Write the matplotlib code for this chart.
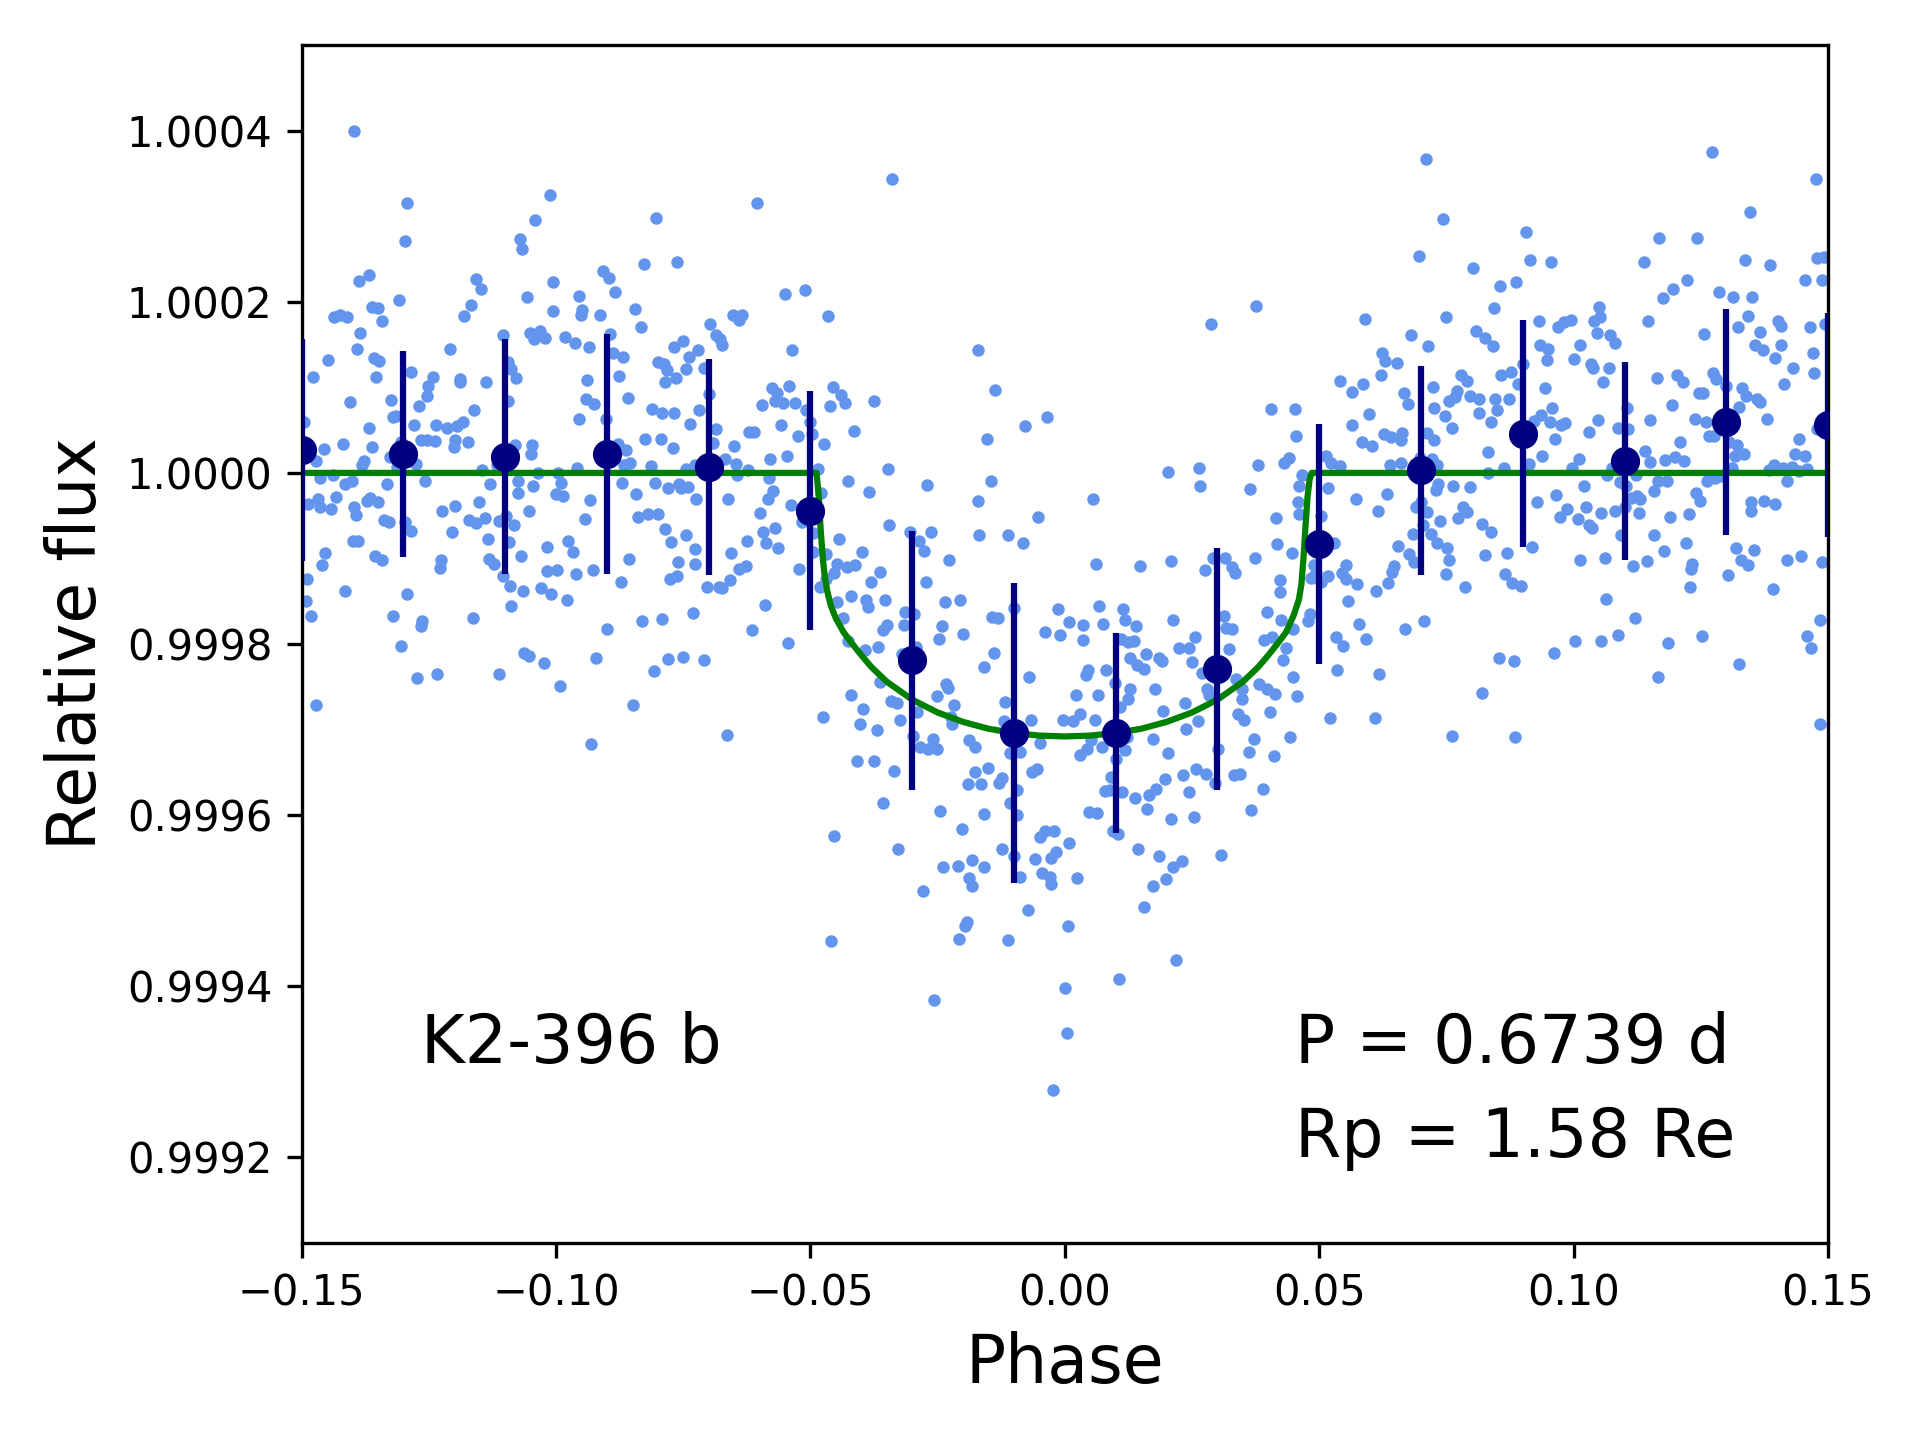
import numpy as np
import matplotlib
matplotlib.use("Agg")
import matplotlib.pyplot as plt

# ---------------- data (flux offsets in units of 1e-4) ----------------
pts_a = [(-0.1397,4.00),(-0.1292,3.16),(-0.1297,2.71),(-0.1011,3.25),(-0.1042,2.96),(-0.1070,2.73),(-0.1066,2.62),
(-0.1005,2.23),(-0.1005,1.89),(-0.1058,2.05),(-0.1388,2.24),(-0.1368,2.31),(-0.1309,2.02),(-0.1157,2.27),(-0.1147,2.15),
(-0.1167,1.96),(-0.1180,1.83),(-0.1437,1.82),(-0.1424,1.84),(-0.1410,1.82),(-0.1361,1.94),(-0.1350,1.93),(-0.1342,1.78),
(-0.1386,1.64),(-0.1392,1.45),(-0.1208,1.45),(-0.1105,1.61),(-0.1052,1.64),(-0.1044,1.57),(-0.1031,1.66),(-0.1022,1.58),
(-0.1357,1.34),(-0.1347,1.31),(-0.1354,1.12),(-0.1449,1.32),(-0.1478,1.12),(-0.1286,1.18),(-0.1241,1.12),(-0.1251,1.02),
(-0.1253,0.90),(-0.1188,1.10),(-0.1189,1.06),(-0.1137,1.06),(-0.1094,1.30),(-0.1088,1.21),(-0.1078,1.11),(-0.1095,0.84),
(-0.1405,0.83),(-0.1325,0.85),(-0.1270,0.78),(-0.1162,0.73),(-0.1315,0.66),(-0.1320,0.65),(-0.1367,0.52),(-0.1280,0.56),
(-0.1235,0.56),(-0.1215,0.52),(-0.1195,0.55),(-0.1182,0.60),(-0.1495,0.59),(-0.1419,0.34),(-0.1362,0.30),(-0.1456,0.28),
(-0.1471,0.14),(-0.1265,0.38),(-0.1254,0.38),(-0.1238,0.37),(-0.1304,0.36),(-0.1198,0.39),(-0.1201,0.30),(-0.1173,0.36),
(-0.1327,0.19),(-0.1377,0.14),(-0.1382,0.09),(-0.1275,0.10),(-0.1313,0.07),(-0.1117,0.09),(-0.1081,0.33),(-0.1048,0.33),
(-0.1050,0.22),(-0.1145,0.03),(-0.1035,0.00),(-0.0997,0.00),(-0.1463,-0.06),(-0.1439,-0.03),(-0.1415,-0.13),(-0.1401,-0.10),
(-0.1333,-0.13),(-0.1258,-0.09),(-0.1129,-0.13),(-0.1075,-0.09),(-0.1046,-0.15),(-0.1074,-0.24),(-0.1001,-0.25),(-0.0991,-0.12),
(-0.1488,-0.36),(-0.1467,-0.30),(-0.1463,-0.40),(-0.1443,-0.42),(-0.1433,-0.28),(-0.1397,-0.40),(-0.1393,-0.49),(-0.1372,-0.33),
(-0.1350,-0.34),(-0.1365,-0.29),(-0.1338,-0.55),(-0.1329,-0.57),(-0.1297,-0.57),(-0.1286,-0.68),(-0.1225,-0.44),(-0.1199,-0.39),
(-0.1205,-0.69),(-0.1151,-0.34),(-0.1171,-0.55),(-0.1158,-0.59),(-0.1140,-0.53),(-0.1112,-0.56),(-0.1099,-0.50),(-0.1082,-0.61),
(-0.1054,-0.45),(-0.1133,-0.77),(-0.1093,-0.81),(-0.1399,-0.79),(-0.1389,-0.79),(-0.1455,-0.94),(-0.1459,-1.08),(-0.1356,-0.97),
(-0.1343,-1.02),(-0.1227,-1.02),(-0.1229,-1.11),(-0.1132,-1.01),(-0.1122,-1.07),(-0.1068,-0.97),(-0.1018,-0.87),(-0.1018,-1.15),
(-0.0999,-1.14),(-0.1490,-1.24),(-0.1492,-1.50),(-0.1482,-1.67),(-0.1415,-1.38),(-0.1292,-1.42),(-0.1104,-1.20),(-0.1090,-1.32),
(-0.1088,-1.55),(-0.1064,-1.38),(-0.1029,-1.34),(-0.1010,-1.41),(-0.1321,-1.67),(-0.1263,-1.73),(-0.1265,-1.79),(-0.1164,-1.69),
(-0.1304,-2.02),(-0.1274,-2.40),(-0.1233,-2.35),(-0.1113,-2.35),(-0.1062,-2.11),(-0.1054,-2.14),(-0.1023,-2.22),(-0.1471,-2.71),
(-0.0992,-2.49)]

pts_b = [(-0.0803,2.98),(-0.0605,3.15),(-0.0907,2.36),(-0.0895,2.28),(-0.0827,2.44),(-0.0762,2.46),(-0.0884,2.12),(-0.0954,2.07),
(-0.0949,1.90),(-0.0950,1.84),(-0.0913,1.85),(-0.0844,1.92),(-0.0833,1.70),(-0.0550,2.09),(-0.0511,2.14),(-0.0982,1.59),
(-0.0963,1.52),(-0.0936,1.47),(-0.0893,1.62),(-0.0888,1.40),(-0.0868,1.35),(-0.0876,1.13),(-0.0939,1.08),(-0.0942,0.86),
(-0.0925,0.80),(-0.0954,0.63),(-0.0901,0.63),(-0.0858,0.87),(-0.0697,1.74),(-0.0686,1.61),(-0.0677,1.57),(-0.0674,1.49),
(-0.0652,1.85),(-0.0635,1.85),(-0.0640,1.79),(-0.0768,1.47),(-0.0750,1.54),(-0.0738,1.36),(-0.0721,1.44),(-0.0709,1.23),
(-0.0799,1.30),(-0.0787,1.27),(-0.0781,1.20),(-0.0764,1.11),(-0.0785,1.06),(-0.0744,1.21),(-0.0699,0.92),(-0.0537,1.44),
(-0.0576,0.99),(-0.0566,0.93),(-0.0542,1.02),(-0.0570,0.84),(-0.0554,0.82),(-0.0530,0.82),(-0.0508,0.73),(-0.0596,0.79),
(-0.0558,0.56),(-0.0525,0.43),(-0.0501,0.59),(-0.0496,0.46),(-0.0811,0.75),(-0.0791,0.70),(-0.0768,0.70),(-0.0737,0.57),
(-0.0719,0.74),(-0.0825,0.40),(-0.0794,0.40),(-0.0770,0.29),(-0.0878,0.34),(-0.0863,0.27),(-0.0855,0.12),(-0.0866,0.09),
(-0.0959,0.06),(-0.0686,0.51),(-0.0692,0.35),(-0.0650,0.32),(-0.0668,0.16),(-0.0646,0.10),(-0.0621,0.48),(-0.0611,0.48),
(-0.0579,0.16),(-0.0546,0.20),(-0.0813,0.08),(-0.0744,0.04),(-0.0726,0.09),(-0.0622,0.03),(-0.0987,-0.27),(-0.0871,-0.12),
(-0.0805,-0.12),(-0.0779,-0.18),(-0.0759,-0.13),(-0.0755,-0.18),(-0.0740,-0.16),(-0.0645,-0.03),(-0.0582,-0.06),(-0.0933,-0.32),
(-0.0842,-0.25),(-0.0725,-0.31),(-0.0662,-0.30),(-0.0573,-0.21),(-0.0584,-0.31),(-0.0538,-0.38),(-0.0599,-0.47),(-0.0944,-0.54),
(-0.0838,-0.52),(-0.0819,-0.48),(-0.0799,-0.48),(-0.0785,-0.65),(-0.0774,-0.81),(-0.0744,-0.73),(-0.0727,-0.89),(-0.0727,-1.07),
(-0.0760,-1.04),(-0.0763,-1.20),(-0.0776,-1.24),(-0.0593,-0.69),(-0.0587,-0.82),(-0.0569,-0.64),(-0.0563,-0.88),(-0.0517,-0.57),
(-0.0495,-0.70),(-0.0494,-0.92),(-0.0625,-0.79),(-0.0656,-0.94),(-0.0640,-1.12),(-0.0627,-1.09),(-0.0658,-1.25),(-0.0680,-1.33),
(-0.0673,-1.35),(-0.0703,-1.33),(-0.0523,-1.12),(-0.0976,-0.79),(-0.0966,-0.92),(-0.0960,-1.18),(-0.0927,-1.14),(-0.0856,-1.01),
(-0.0872,-1.27),(-0.0978,-1.48),(-0.0899,-1.82),(-0.0831,-1.73),(-0.0791,-1.71),(-0.0731,-1.64),(-0.0589,-1.54),(-0.0615,-1.84),
(-0.0544,-1.99),(-0.0921,-2.16),(-0.0807,-2.31),(-0.0780,-2.17),(-0.0750,-2.15),(-0.0709,-2.19),(-0.0848,-2.71),
(-0.0931,-3.17),(-0.0664,-3.06)]

pts_c = [(-0.0340,3.44),(-0.0465,1.83),(-0.0171,1.44),(-0.0138,0.97),(-0.0455,1.00),(-0.0440,0.91),(-0.0432,0.82),(-0.0461,0.78),
(-0.0375,0.84),(-0.0414,0.49),(-0.0474,0.34),(-0.0153,0.40),(-0.0079,0.55),(-0.0036,0.65),(-0.0347,0.04),(-0.0271,-0.14),
(-0.0426,-0.09),(-0.0385,-0.22),(-0.0145,-0.10),(-0.0171,-0.33),(-0.0485,0.05),(-0.0479,-0.24),(-0.0345,-0.61),(-0.0304,-0.69),
(-0.0287,-0.80),(-0.0277,-0.91),(-0.0263,-0.69),(-0.0169,-0.72),(-0.0112,-0.73),(-0.0083,-0.82),(-0.0053,-0.52),(-0.0470,-0.95),
(-0.0443,-0.77),(-0.0398,-0.93),(-0.0447,-1.06),(-0.0428,-1.10),(-0.0412,-1.08),(-0.0453,-1.17),(-0.0470,-1.24),(-0.0481,-1.33),
(-0.0381,-1.27),(-0.0363,-1.16),(-0.0228,-1.02),(-0.0273,-1.28),(-0.0447,-1.51),(-0.0421,-1.44),(-0.0391,-1.49),(-0.0387,-1.57),
(-0.0354,-1.49),(-0.0206,-1.48),(-0.0236,-1.51),(-0.0436,-1.70),(-0.0314,-1.62),(-0.0296,-1.65),(-0.0317,-1.78),(-0.0350,-1.78),
(-0.0358,-1.84),(-0.0241,-1.79),(-0.0247,-1.94),(-0.0200,-1.88),(-0.0143,-1.68),(-0.0132,-1.70),(-0.0100,-1.58),(-0.0014,-1.59),
(-0.0038,-1.86),(-0.0009,-1.90),(0.0008,-1.74),(-0.0426,-1.97),(-0.0392,-2.07),(-0.0368,-2.03),(-0.0321,-2.12),(-0.0292,-2.03),
(-0.0140,-2.10),(-0.0159,-2.27),(-0.0071,-2.39),(-0.0364,-2.44),(-0.0421,-2.60),(-0.0396,-2.76),(-0.0402,-2.94),(-0.0369,-3.01),
(-0.0476,-2.85),(-0.0342,-2.66),(-0.0329,-2.69),(-0.0324,-2.89),(-0.0291,-2.80),(-0.0252,-2.61),(-0.0234,-2.47),(-0.0230,-2.51),
(-0.0217,-2.71),(-0.0221,-2.93),(-0.0223,-2.85),(-0.0298,-3.08),(-0.0285,-3.20),(-0.0260,-3.11),(-0.0268,-3.23),(-0.0252,-3.23),
(-0.0118,-2.68),(-0.0120,-2.90),(-0.0067,-2.89),(-0.0048,-3.16),(-0.0188,-3.12),(-0.0177,-3.20),(-0.0004,-2.89),(-0.0409,-3.37),
(-0.0375,-3.37),(-0.0336,-3.48),(-0.0177,-3.50),(-0.0191,-3.64),(-0.0165,-3.64),(-0.0151,-3.45),(-0.0130,-3.62),(-0.0123,-3.57),
(-0.0107,-3.27),(-0.0089,-3.26),(-0.0064,-3.50),(-0.0055,-3.46),(-0.0094,-3.71),(-0.0094,-4.00),(-0.0107,-3.86),(-0.0357,-3.86),
(-0.0159,-3.99),(-0.0202,-4.16),(-0.0245,-3.95),(-0.0453,-4.24),(-0.0328,-4.39),(-0.0239,-4.60),(-0.0210,-4.59),(-0.0183,-4.52),
(-0.0158,-4.61),(-0.0189,-4.73),(-0.0183,-4.83),(-0.0124,-4.39),(-0.0100,-4.48),(-0.0089,-4.72),(-0.0059,-4.51),(-0.0038,-4.18),
(-0.0022,-4.18),(-0.0049,-4.26),(-0.0028,-4.50),(-0.0017,-4.43),(-0.0045,-4.67),(-0.0030,-4.72),(-0.0027,-4.81),(0.0009,-4.32),
(-0.0279,-4.89),(-0.0073,-5.11),(-0.0196,-5.29),(-0.0192,-5.25),(-0.0208,-5.45),(-0.0112,-5.46),(-0.0459,-5.47),(0.0006,-5.30),
(-0.0257,-6.16),(0.0001,-6.02),(0.0004,-6.55),(-0.0024,-7.21)]

pts_d = [(0.0288,1.74),(0.0376,1.95),(0.0406,0.75),(0.0453,0.75),(0.0455,0.43),(0.0202,0.01),(0.0264,0.06),(0.0266,-0.15),
(0.0379,0.09),(0.0364,-0.19),(0.0431,0.12),(0.0440,0.18),(0.0466,-0.02),(0.0461,-0.15),(0.0459,-0.34),(0.0461,-0.48),
(0.0415,-0.53),(0.0417,-0.83),(0.0447,-0.94),(0.0423,-1.25),(0.0422,-1.39),(0.0484,-1.23),(0.0490,-1.08),(0.0493,-1.17),
(0.0503,-1.28),(0.0503,-0.50),(0.0482,-1.65),(0.0477,-1.73),(0.0055,-0.31),(0.0061,-1.07),(0.0148,-1.09),(0.0208,-1.03),
(0.0291,-0.99),(0.0315,-1.00),(0.0328,-1.10),(0.0334,-1.17),(0.0276,-1.13),(0.0373,-0.99),(0.0068,-1.56),(0.0075,-1.77),
(0.0115,-1.59),(0.0118,-1.72),(0.0140,-1.79),(0.0213,-1.72),(0.0313,-1.67),(0.0317,-1.81),(0.0328,-1.83),(0.0323,-2.06),
(0.0398,-1.62),(0.0425,-1.72),(0.0449,-1.83),(0.0035,-1.78),(0.0035,-1.95),(0.0111,-1.94),(0.0124,-1.98),(0.0136,-1.97),
(0.0160,-2.12),(0.0129,-2.16),(0.0142,-2.25),(0.0156,-2.29),(0.0186,-2.16),(0.0191,-2.20),(0.0225,-2.05),(0.0244,-2.05),
(0.0255,-1.92),(0.0249,-2.21),(0.0270,-2.34),(0.0392,-1.95),(0.0408,-1.92),(0.0435,-2.05),(0.0429,-2.19),(0.0080,-2.30),
(0.0098,-2.46),(0.0046,-2.30),(0.0041,-2.36),(0.0178,-2.52),(0.0021,-2.59),(0.0066,-2.60),(0.0129,-2.52),(0.0125,-2.64),
(0.0108,-2.73),(0.0279,-2.52),(0.0284,-2.60),(0.0336,-2.41),(0.0349,-2.52),(0.0349,-2.64),(0.0381,-2.47),(0.0398,-2.52),
(0.0413,-2.58),(0.0457,-2.61),(0.0449,-2.38),(0.0193,-2.78),(0.0236,-2.69),(0.0261,-2.90),(0.0238,-2.99),(0.0341,-2.82),
(0.0353,-2.89),(0.0404,-2.79),(0.0016,-2.90),(0.0029,-2.82),(0.0052,-3.12),(0.0059,-2.89),(0.0029,-3.30),(0.0044,-3.23),
(0.0073,-3.20),(0.0101,-3.34),(0.0119,-3.24),(0.0123,-3.09),(0.0174,-3.11),(0.0202,-3.27),(0.0302,-3.23),(0.0361,-3.26),
(0.0371,-3.11),(0.0411,-3.31),(0.0443,-3.09),(0.0090,-3.55),(0.0078,-3.72),(0.0088,-3.71),(0.0113,-3.73),(0.0137,-3.80),
(0.0162,-3.93),(0.0166,-3.77),(0.0179,-3.69),(0.0196,-3.58),(0.0232,-3.53),(0.0244,-3.73),(0.0258,-3.46),(0.0278,-3.52),
(0.0296,-3.62),(0.0253,-4.02),(0.0208,-4.05),(0.0333,-3.53),(0.0344,-3.52),(0.0389,-3.69),(0.0366,-3.94),(0.0047,-3.96),
(0.0063,-3.97),(0.0095,-4.18),(0.0104,-4.22),(0.0143,-4.40),(0.0186,-4.48),(0.0213,-4.61),(0.0231,-4.54),(0.0198,-4.75),
(0.0173,-4.83),(0.0307,-4.46),(0.0023,-4.73),(0.0155,-5.07),(0.0219,-5.69),(0.0106,-5.91)]

pts_e = [(0.0710,3.67),(0.0743,2.97),(0.0696,2.54),(0.0906,2.81),(0.0915,2.49),(0.0955,2.47),(0.0802,2.39),(0.0855,2.19),
(0.0886,2.23),(0.0843,1.93),(0.0590,1.80),(0.0749,1.82),(0.0680,1.61),(0.0713,1.48),(0.0808,1.66),(0.0825,1.58),(0.0841,1.48),
(0.0931,1.77),(0.0970,1.71),(0.0982,1.76),(0.0994,1.79),(0.0934,1.50),(0.0949,1.45),(0.0947,1.32),(0.1012,1.50),(0.1000,1.33),
(0.0623,1.40),(0.0629,1.31),(0.0653,1.29),(0.0621,1.15),(0.0541,1.07),(0.0565,0.95),(0.0587,1.04),(0.0666,0.93),(0.0674,0.80),
(0.0724,1.00),(0.0598,0.69),(0.0725,0.76),(0.0747,0.67),(0.0755,0.84),(0.0766,0.89),(0.0770,0.96),(0.0778,1.14),(0.0791,1.07),
(0.0797,0.90),(0.0814,0.86),(0.0814,0.70),(0.0761,0.52),(0.0858,1.14),(0.0876,1.18),(0.0891,1.04),(0.0901,1.27),(0.0846,0.86),
(0.0849,0.74),(0.0873,0.86),(0.0837,0.60),(0.0943,0.99),(0.0958,0.76),(0.0936,0.68),(0.0923,0.61),(0.0953,0.60),(0.0976,0.56),
(0.0984,0.58),(0.0964,0.40),(0.0565,0.56),(0.0584,0.36),(0.0604,0.32),(0.0627,0.46),(0.0642,0.42),(0.0662,0.47),(0.0661,0.38),
(0.0712,0.47),(0.0725,0.38),(0.0513,0.20),(0.0523,0.11),(0.0540,0.08),(0.0639,0.09),(0.0661,0.11),(0.0698,0.18),(0.0721,0.16),
(0.0732,0.09),(0.0831,0.24),(0.0832,0.00),(0.0864,0.06),(0.0912,0.10),(0.0937,0.20),(0.0997,0.06),(0.1010,0.16),(0.0517,-0.18),
(0.0572,-0.31),(0.0633,-0.25),(0.0615,-0.44),(0.0734,-0.13),(0.0730,-0.20),(0.0763,-0.15),(0.0796,-0.16),(0.0691,-0.40),
(0.0700,-0.34),(0.0712,-0.46),(0.0737,-0.56),(0.0704,-0.61),(0.0684,-0.71),(0.0719,-0.71),(0.0732,-0.82),(0.0751,-0.88),
(0.0756,-1.02),(0.0749,-1.18),(0.0773,-0.53),(0.0782,-0.40),(0.0791,-0.46),(0.0820,-0.60),(0.0837,-0.69),(0.0825,-0.96),
(0.0870,-0.94),(0.0866,-1.18),(0.0878,-1.29),(0.0896,-1.32),(0.0786,-1.33),(0.0928,-0.34),(0.0918,-0.87),(0.0966,-0.26),
(0.0974,-0.52),(0.0987,-0.42),(0.1008,-0.54),(0.1013,-1.02),(0.0529,-0.82),(0.0655,-0.85),(0.0677,-0.95),(0.0687,-1.04),
(0.0646,-1.09),(0.0644,-1.16),(0.0635,-1.29),(0.0612,-1.38),(0.0574,-1.30),(0.0552,-1.08),(0.0544,-1.17),(0.0552,-1.24),
(0.0517,-1.21),(0.0557,-1.50),(0.0578,-1.77),(0.0592,-1.94),(0.0532,-1.92),(0.0547,-2.02),(0.0535,-2.30),(0.0668,-1.83),
(0.0706,-1.73),(0.0617,-2.35),(0.0853,-2.16),(0.0882,-2.20),(0.0819,-2.57),(0.0961,-2.11),(0.1003,-1.96),(0.0521,-2.87),
(0.0610,-2.87),(0.0761,-3.07),(0.0884,-3.09)]

pts_f = [(0.1272,3.75),(0.1476,3.43),(0.1346,3.05),(0.1168,2.75),(0.1243,2.75),(0.1139,2.47),(0.1337,2.49),(0.1386,2.43),
(0.1478,2.51),(0.1492,2.52),(0.1223,2.25),(0.1196,2.15),(0.1175,2.04),(0.1285,2.12),(0.1314,2.05),(0.1350,2.06),(0.1455,2.25),
(0.1489,2.25),(0.1049,1.94),(0.1051,1.82),(0.1040,1.77),(0.1045,1.64),(0.1072,1.61),(0.1082,1.52),(0.1147,1.77),(0.1256,1.62),
(0.1323,1.70),(0.1343,1.83),(0.1366,1.65),(0.1357,1.49),(0.1373,1.44),(0.1402,1.77),(0.1408,1.72),(0.1408,1.49),(0.1396,1.34),
(0.1465,1.70),(0.1470,1.40),(0.1472,1.17),(0.1494,1.74),(0.1034,1.27),(0.1038,1.23),(0.1069,1.23),(0.1058,1.06),(0.1163,1.11),
(0.1203,1.15),(0.1215,1.06),(0.1274,1.17),(0.1280,1.10),(0.1300,1.02),(0.1431,1.23),(0.1414,1.04),(0.1105,0.76),(0.1193,0.79),
(0.1247,0.93),(0.1255,0.93),(0.1331,0.99),(0.1338,0.90),(0.1325,0.77),(0.1360,0.86),(0.1366,0.83),(0.1047,0.62),(0.1031,0.48),
(0.1088,0.52),(0.1106,0.51),(0.1151,0.62),(0.1239,0.63),(0.1261,0.59),(0.1266,0.43),(0.1276,0.43),(0.1380,0.63),(0.1442,0.40),
(0.1478,0.51),(0.1210,0.36),(0.1141,0.26),(0.1151,0.13),(0.1180,0.15),(0.1199,0.19),(0.1217,0.14),(0.1306,0.36),(0.1321,0.33),
(0.1317,0.20),(0.1335,0.22),(0.1436,0.22),(0.1454,0.20),(0.1065,-0.03),(0.1076,0.06),(0.1123,-0.03),(0.1165,-0.09),(0.1183,-0.09),
(0.1262,-0.10),(0.1278,-0.06),(0.1290,-0.04),(0.1312,0.06),(0.1384,0.03),(0.1393,0.09),(0.1412,0.06),(0.1429,0.07),(0.1442,0.02),
(0.1458,0.04),(0.1419,-0.10),(0.1021,-0.15),(0.1092,-0.11),(0.1102,-0.15),(0.1157,-0.21),(0.1112,-0.29),(0.1131,-0.31),
(0.1125,-0.27),(0.1241,-0.24),(0.1248,-0.33),(0.1025,-0.40),(0.1054,-0.47),(0.1082,-0.44),(0.1100,-0.40),(0.1129,-0.47),
(0.1030,-0.61),(0.1037,-0.64),(0.1190,-0.52),(0.1227,-0.48),(0.1348,-0.34),(0.1348,-0.45),(0.1374,-0.33),(0.1396,-0.36),
(0.1094,-0.73),(0.1157,-0.72),(0.1221,-0.82),(0.1178,-0.91),(0.1061,-1.00),(0.1117,-1.09),(0.1144,-1.03),(0.1232,-1.06),
(0.1230,-1.12),(0.1229,-1.33),(0.1319,-0.88),(0.1329,-1.02),(0.1342,-1.08),(0.1355,-0.90),(0.1304,-1.19),(0.1419,-1.02),
(0.1447,-0.97),(0.1392,-1.36),(0.1489,-1.04),(0.1063,-1.47),(0.1121,-1.69),(0.1053,-1.97),(0.1088,-1.89),(0.1186,-1.99),
(0.1253,-1.91),(0.1325,-2.23),(0.1166,-2.39),(0.1485,-1.72),(0.1459,-1.91),(0.1467,-2.05),(0.1484,-2.94)]

# binned data
bin_phase = [-0.15, -0.13, -0.11, -0.09, -0.07, -0.05, -0.03, -0.01, 0.01, 0.03, 0.05, 0.07, 0.09, 0.11, 0.13, 0.15]
bin_dflux = [0.27, 0.22, 0.19, 0.22, 0.07, -0.44, -2.19, -3.04, -3.04, -2.29, -0.83, 0.03, 0.46, 0.14, 0.59, 0.56]
bin_err = [1.30, 1.20, 1.37, 1.40, 1.26, 1.40, 1.51, 1.75, 1.17, 1.41, 1.40, 1.22, 1.33, 1.16, 1.32, 1.31]

# transit model curve
model_phase = [-0.15, -0.0488, -0.0484, -0.0480, -0.0476, -0.0472, -0.0467, -0.0460, -0.0450, -0.0435, -0.0420,
               -0.0400, -0.0380, -0.0350, -0.0300, -0.0250, -0.0200, -0.0150, -0.0100, -0.0050, 0.0,
               0.0050, 0.0100, 0.0150, 0.0200, 0.0250, 0.0300, 0.0350, 0.0380, 0.0400, 0.0420, 0.0435,
               0.0450, 0.0460, 0.0465, 0.0469, 0.0473, 0.0477, 0.0481, 0.0485, 0.15]
model_dflux = [0.0, 0.0, -0.25, -0.65, -0.98, -1.20, -1.38, -1.55, -1.70, -1.86, -1.98,
               -2.13, -2.27, -2.44, -2.65, -2.80, -2.91, -2.99, -3.04, -3.07, -3.08,
               -3.07, -3.04, -2.99, -2.91, -2.80, -2.65, -2.44, -2.27, -2.13, -1.98, -1.86,
               -1.66, -1.48, -1.30, -1.00, -0.62, -0.28, -0.08, 0.0, 0.0]

planet_name = "K2-396 b"
period_text = "P = 0.6739 d"
radius_text = "Rp = 1.58 Re"

# ---------------- build arrays ----------------
all_pts = np.array(pts_a + pts_b + pts_c + pts_d + pts_e + pts_f)
sc_phase = all_pts[:, 0]
sc_flux = 1.0 + all_pts[:, 1] * 1e-4
b_flux = 1.0 + np.array(bin_dflux) * 1e-4
b_err = np.array(bin_err) * 1e-4
m_flux = 1.0 + np.array(model_dflux) * 1e-4

# ---------------- plot ----------------
fig = plt.figure(figsize=(6.4, 4.8), dpi=300)
ax = fig.add_axes([0.1571, 0.1368, 0.7950, 0.8319])

ax.plot(sc_phase, sc_flux, 'o', color='cornflowerblue', ms=3.0, mew=0, zorder=1)
ax.plot(model_phase, m_flux, '-', color='green', lw=1.5, zorder=2)
ax.errorbar(bin_phase, b_flux, yerr=b_err, fmt='o', color='navy', ms=6,
            elinewidth=1.5, capsize=0, zorder=3)

ax.set_xlim(-0.15, 0.15)
ax.set_ylim(0.9991, 1.0005)
ax.set_xticks([-0.15, -0.10, -0.05, 0.00, 0.05, 0.10, 0.15])
ax.set_yticks([0.9992, 0.9994, 0.9996, 0.9998, 1.0000, 1.0002, 1.0004])
ax.ticklabel_format(axis='y', useOffset=False)
ax.tick_params(labelsize=10)

ax.set_xlabel("Phase", fontsize=16)
ax.set_ylabel("Relative flux", fontsize=16)

ax.text(-0.1265, 0.99931, planet_name, fontsize=16, va='baseline', ha='left')
ax.text(0.0452, 0.99931, period_text, fontsize=16, va='baseline', ha='left')
ax.text(0.0452, 0.99920, radius_text, fontsize=16, va='baseline', ha='left')

fig.savefig("out.png", dpi=300)
